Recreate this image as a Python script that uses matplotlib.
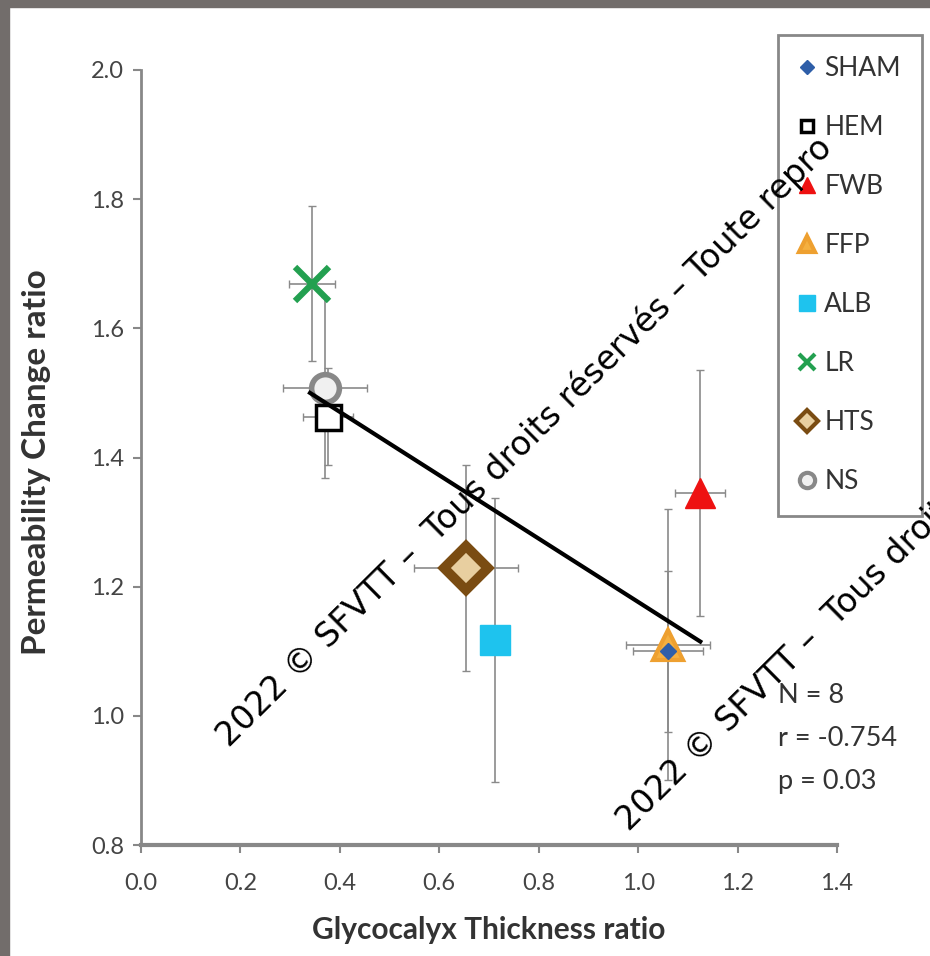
import matplotlib.pyplot as plt
from matplotlib.patches import Rectangle

# groupes et valeurs
groupes = ['SHAM', 'HEM', 'FWB', 'FFP', 'ALB', 'LR', 'HTS', 'NS']
epaisseur = [1.06, 0.376, 1.125, 1.06, 0.712, 0.344, 0.654, 0.37]
permeab = [1.10, 1.463, 1.345, 1.11, 1.117, 1.669, 1.229, 1.508]
err_x = [0.07, 0.05, 0.05, 0.085, 0.02, 0.047, 0.105, 0.085]
err_y = [0.125, 0.075, 0.19, 0.21, 0.22, 0.12, 0.16, 0.14]

# droite de regression (extremites lues)
reg_x = [0.34, 1.125]
reg_y = [1.50, 1.115]

styles = {
    'SHAM': dict(marker='D', color='#2e5ea8', mec='#2e5ea8', ms=8, lms=7, mew=1),
    'HEM': dict(marker='s', color='white', mec='black', ms=18, lms=9, mew=2.5),
    'FWB': dict(marker='^', color='#ee1111', mec='#ee1111', ms=22, lms=12, mew=1),
    'FFP': dict(marker='^', color='#f5b040', mec='#eea030', ms=22, lms=12, mew=3),
    'ALB': dict(marker='s', color='#1ec3ee', mec='#1ec3ee', ms=22, lms=11, mew=1),
    'LR': dict(marker='x', color='#23a050', mec='#23a050', ms=24, lms=11, mew=4.5),
    'HTS': dict(marker='D', color='#e8cfa0', mec='#7a4c12', ms=22, lms=11, mew=7),
    'NS': dict(marker='o', color='#f0f0f0', mec='#888888', ms=20, lms=11, mew=4),
}

fig = plt.figure(figsize=(9.3, 9.56), dpi=100)
ax = fig.add_axes([141/930, 1-845/956, (837-141)/930, (845-70)/956])

# cadre gris autour de l'image
fig.patches.append(Rectangle((0, 1-7/956), 1, 7/956, transform=fig.transFigure,
                             color='#726d6b', zorder=0))
fig.patches.append(Rectangle((0, 0), 9/930, 1, transform=fig.transFigure,
                             color='#726d6b', zorder=0))

ordre = ['NS', 'HEM', 'LR', 'HTS', 'ALB', 'FWB', 'FFP', 'SHAM']
for g in ordre:
    i = groupes.index(g)
    s = styles[g]
    ax.errorbar(epaisseur[i], permeab[i], xerr=err_x[i], yerr=err_y[i],
                fmt='none', ecolor='#8a8a8a', elinewidth=1.2, capsize=3, zorder=2)
    ax.plot(epaisseur[i], permeab[i], linestyle='none', marker=s['marker'],
            markerfacecolor=s['color'], markeredgecolor=s['mec'],
            markersize=s['ms'], markeredgewidth=s['mew'], zorder=3)

ax.plot(reg_x, reg_y, color='black', lw=3, zorder=4)

# legende
poignees = []
for g in groupes:
    s = styles[g]
    h, = ax.plot([], [], linestyle='none', marker=s['marker'],
                 markerfacecolor=s['color'], markeredgecolor=s['mec'],
                 markersize=s['lms'], markeredgewidth=min(s['mew'], 3), label=g)
    poignees.append(h)
leg = fig.legend(handles=poignees, loc='upper left',
                 bbox_to_anchor=(778/930, 1-35/956), bbox_transform=fig.transFigure,
                 borderaxespad=0, labelspacing=1.29, handletextpad=0.35,
                 handlelength=0.6, borderpad=0.8, fancybox=False, framealpha=1,
                 prop={'family': 'Lato', 'size': 19})
leg.get_frame().set_edgecolor('#888888')
leg.get_frame().set_linewidth(2)
for t in leg.get_texts():
    t.set_color('#333333')

ax.set_xlim(0, 1.4)
ax.set_ylim(0.8, 2.0)
ax.set_xticks([0.0, 0.2, 0.4, 0.6, 0.8, 1.0, 1.2, 1.4])
ax.set_yticks([0.8, 1.0, 1.2, 1.4, 1.6, 1.8, 2.0])
ax.set_xticklabels(['0.0', '0.2', '0.4', '0.6', '0.8', '1.0', '1.2', '1.4'])
ax.set_yticklabels(['0.8', '1.0', '1.2', '1.4', '1.6', '1.8', '2.0'])
ax.tick_params(axis='both', direction='out', length=6, width=1.5, color='#888888',
               labelsize=17, labelcolor='#444444', labelfontfamily='Lato')
ax.tick_params(axis='x', pad=14)
ax.tick_params(axis='y', pad=6)
ax.spines['top'].set_visible(False)
ax.spines['right'].set_visible(False)
ax.spines['left'].set_color('#888888')
ax.spines['left'].set_linewidth(2)
ax.spines['bottom'].set_color('#888888')
ax.spines['bottom'].set_linewidth(3)
ax.patch.set_alpha(0)

ax.set_xlabel('Glycocalyx Thickness ratio', fontfamily='Lato', fontsize=21.5,
              fontweight='bold', color='#333333')
ax.set_ylabel('Permeability Change ratio', fontfamily='Lato', fontsize=24,
              fontweight='bold', color='#333333')
ax.xaxis.set_label_coords(489/930, 1-930/956, transform=fig.transFigure)
ax.yaxis.set_label_coords(37/930, 1-462/956, transform=fig.transFigure)
ax.xaxis.label.set_va('center')
ax.yaxis.label.set_va('center')

# statistiques
for k, txt in enumerate(['N = 8', 'r = -0.754', 'p = 0.03']):
    fig.text(778/930, 1-(703 + 43*k)/956, txt, fontfamily='Lato', fontsize=19.5,
             color='#333333', ha='left', va='baseline')

# filigrane
filigrane = '2022 \u00a9 SFVTT \u2013  Tous droits r\u00e9serv\u00e9s \u2013 Toute repro'
fig.text(229/930, 1-748/956, filigrane, fontsize=24, rotation=44.7,
         rotation_mode='anchor', ha='left', va='baseline', color='black', zorder=10)
fig.text(629/930, 1-832/956, '2022 \u00a9 SFVTT \u2013  Tous droits', fontsize=24,
         rotation=44.7, rotation_mode='anchor', ha='left', va='baseline',
         color='black', zorder=10)

plt.savefig('out.png', dpi=100)
